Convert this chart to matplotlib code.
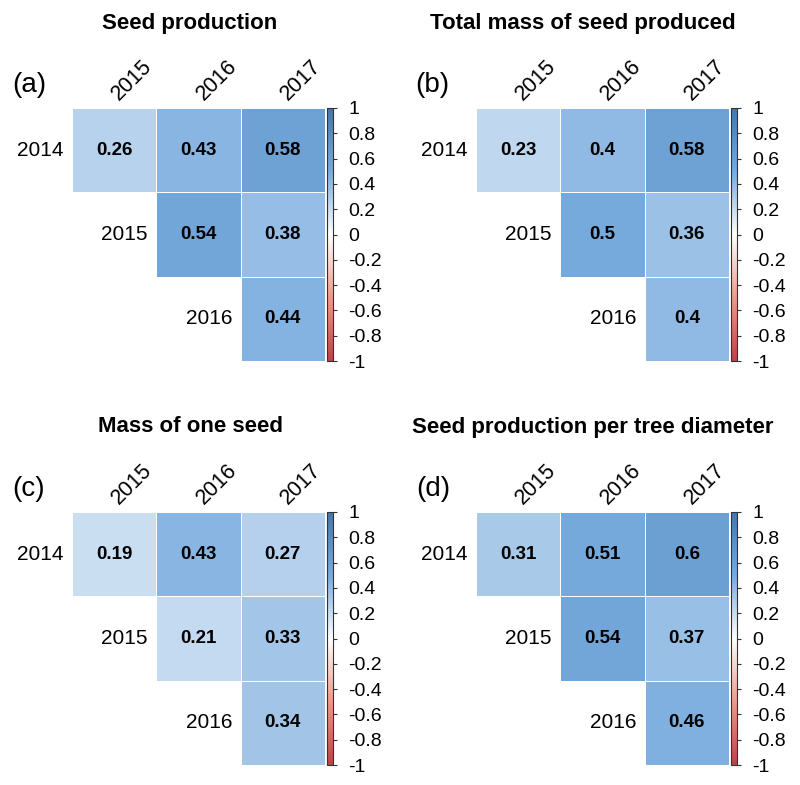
import numpy as np
import matplotlib
matplotlib.use("Agg")
import matplotlib.pyplot as plt
from matplotlib.colors import LinearSegmentedColormap

plt.rcParams['font.family'] = ['Liberation Sans', 'DejaVu Sans']

# correlation values between years (upper triangle only)
row_years = ["2014", "2015", "2016"]
col_years = ["2015", "2016", "2017"]

seed_production = [[0.26, 0.43, 0.58],
                   [None, 0.54, 0.38],
                   [None, None, 0.44]]
total_mass = [[0.23, 0.4, 0.58],
              [None, 0.5, 0.36],
              [None, None, 0.4]]
mass_one_seed = [[0.19, 0.43, 0.27],
                 [None, 0.21, 0.33],
                 [None, None, 0.34]]
per_diameter = [[0.31, 0.51, 0.6],
                [None, 0.54, 0.37],
                [None, None, 0.46]]

titles = ["Seed production", "Total mass of seed produced",
          "Mass of one seed", "Seed production per tree diameter"]
tags = ["(a)", "(b)", "(c)", "(d)"]
panels = [seed_production, total_mass, mass_one_seed, per_diameter]

cbar_ticks = [1, 0.8, 0.6, 0.4, 0.2, 0, -0.2, -0.4, -0.6, -0.8, -1]
cbar_labels = ["1", "0.8", "0.6", "0.4", "0.2", "0", "-0.2", "-0.4", "-0.6", "-0.8", "-1"]

cmap = LinearSegmentedColormap.from_list(
    "corr", ["#BB4444", "#EE9988", "#FFFFFF", "#77AADD", "#4477AA"], N=200)

W, H = 800, 785
fig = plt.figure(figsize=(W / 100, H / 100), dpi=100)

# grid top-left corners in pixels
corners = [(72, 108), (476, 108), (72, 512), (476, 512)]
title_pos = [(190, 23), (583, 23), (190, 427), (593, 427)]
tag_pos = [(12, 85), (415, 85), (12, 489), (416, 489)]
size = 253

for k in range(4):
    x0, y0 = corners[k]
    M = np.array(panels[k], dtype=float)
    ax = fig.add_axes([x0 / W, 1 - (y0 + size) / H, size / W, size / H])
    mesh = ax.pcolormesh(np.ma.masked_invalid(M), cmap=cmap, vmin=-1, vmax=1,
                         edgecolors="white", linewidth=0.5)
    ax.set_xlim(0, 3)
    ax.set_ylim(3, 0)
    ax.axis("off")

    for i in range(3):
        for j in range(3):
            if not np.isnan(M[i, j]):
                ax.text(j + 0.5, i + 0.5, f"{M[i, j]:g}", ha="center", va="center",
                        fontsize=13.5, fontweight="bold")
        ax.text(i - 0.1, i + 0.5, row_years[i], ha="right", va="center",
                fontsize=15, clip_on=False)
    for j in range(3):
        ax.text(j + 0.6, -0.04, col_years[j], rotation=45, ha="left", va="bottom",
                rotation_mode="anchor", fontsize=15.5, clip_on=False)

    cax = fig.add_axes([(x0 + size + 2) / W, 1 - (y0 + size) / H, 6 / W, size / H])
    cb = fig.colorbar(mesh, cax=cax, ticks=cbar_ticks)
    cb.ax.set_yticklabels(cbar_labels)
    cb.ax.tick_params(labelsize=14, length=3, width=0.8, pad=8, color="#333333")
    cb.outline.set_edgecolor("#333333")
    cb.outline.set_linewidth(0.8)

    tx, ty = title_pos[k]
    fig.text(tx / W, 1 - ty / H, titles[k], ha="center", va="center",
             fontsize=16, fontweight="bold")
    gx, gy = tag_pos[k]
    fig.text(gx / W, 1 - gy / H, tags[k], ha="left", va="center", fontsize=20)

fig.savefig("out.png", dpi=100)
